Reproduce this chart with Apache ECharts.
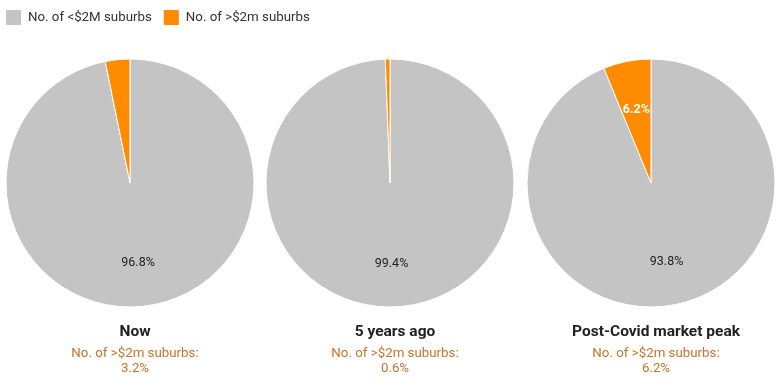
<!DOCTYPE html>
<html><head><meta charset="utf-8">
<script src="https://cdn.jsdelivr.net/npm/echarts@6/dist/echarts.min.js"></script>
<style>html,body{margin:0;padding:0;background:#fff}#c{width:783px;height:388px}</style>
</head><body><div id="c"></div>
<script>
const seriesNames = ['No. of <$2M suburbs', 'No. of >$2m suburbs'];
const pieTitles = ['Now', '5 years ago', 'Post-Covid market peak'];
const under2m = [96.8, 99.4, 93.8];
const over2m = [3.2, 0.6, 6.2];
const colors = ['#c4c4c4', '#ff8c00'];
const centersX = [130, 390, 651];
const cy = 183, R = 124;
const font = 'Roboto, "Noto Sans", sans-serif';

const series = [];
const titles = [];
pieTitles.forEach((t, i) => {
  const data = [
    {name: seriesNames[0], value: under2m[i], itemStyle: {color: colors[0]}},
    {name: seriesNames[1], value: over2m[i], itemStyle: {color: colors[1]}}
  ];
  series.push({
    type: 'pie', center: [centersX[i], cy], radius: [0, R], startAngle: 90, clockwise: true,
    label: {show: false}, labelLine: {show: false}, silent: true, animation: false,
    itemStyle: {borderColor: '#ffffff', borderWidth: 1},
    data: data
  });
  series.push({
    type: 'pie', center: [centersX[i], cy], radius: [R * 0.25, R], startAngle: 90, clockwise: true,
    silent: true, animation: false, legendHoverLink: false,
    itemStyle: {color: 'rgba(0,0,0,0)', borderWidth: 0},
    labelLine: {show: false},
    data: data.map((d, k) => {
      const show = d.value >= 5;
      return {name: d.name + ' ', value: d.value, itemStyle: {color: 'rgba(0,0,0,0)'},
        label: {show: show, position: 'inside', formatter: d.value.toFixed(1) + '%',
          color: k === 0 ? '#222222' : '#ffffff', fontWeight: k === 0 ? 'normal' : 'bold',
          offset: k === 0 ? [0, 0] : [1, 6],
          fontSize: 12.5, fontFamily: font}};
    })
  });
  titles.push({
    text: t, subtext: 'No. of >$2m suburbs:\n' + over2m[i].toFixed(1) + '%',
    left: centersX[i], top: 319, textAlign: 'center', itemGap: 6,
    textStyle: {fontSize: 15.5, fontWeight: 'bold', color: '#222', fontFamily: font},
    subtextStyle: {fontSize: 13.3, color: '#c8732a', fontFamily: font, lineHeight: 15}
  });
});

const chart = echarts.init(document.getElementById('c'), null, {renderer: 'canvas'});
chart.setOption({
  animation: false,
  title: titles,
  legend: {
    data: seriesNames.map(n => ({name: n, icon: 'rect'})), left: 1, top: 5, itemWidth: 15, itemHeight: 15, itemGap: 12,
    selectedMode: false,
    itemStyle: {borderWidth: 0},
    textStyle: {fontSize: 13.3, color: '#333', fontFamily: font, padding: [0, 0, 0, 2]}
  },
  color: colors,
  series: series
});
</script></body></html>
